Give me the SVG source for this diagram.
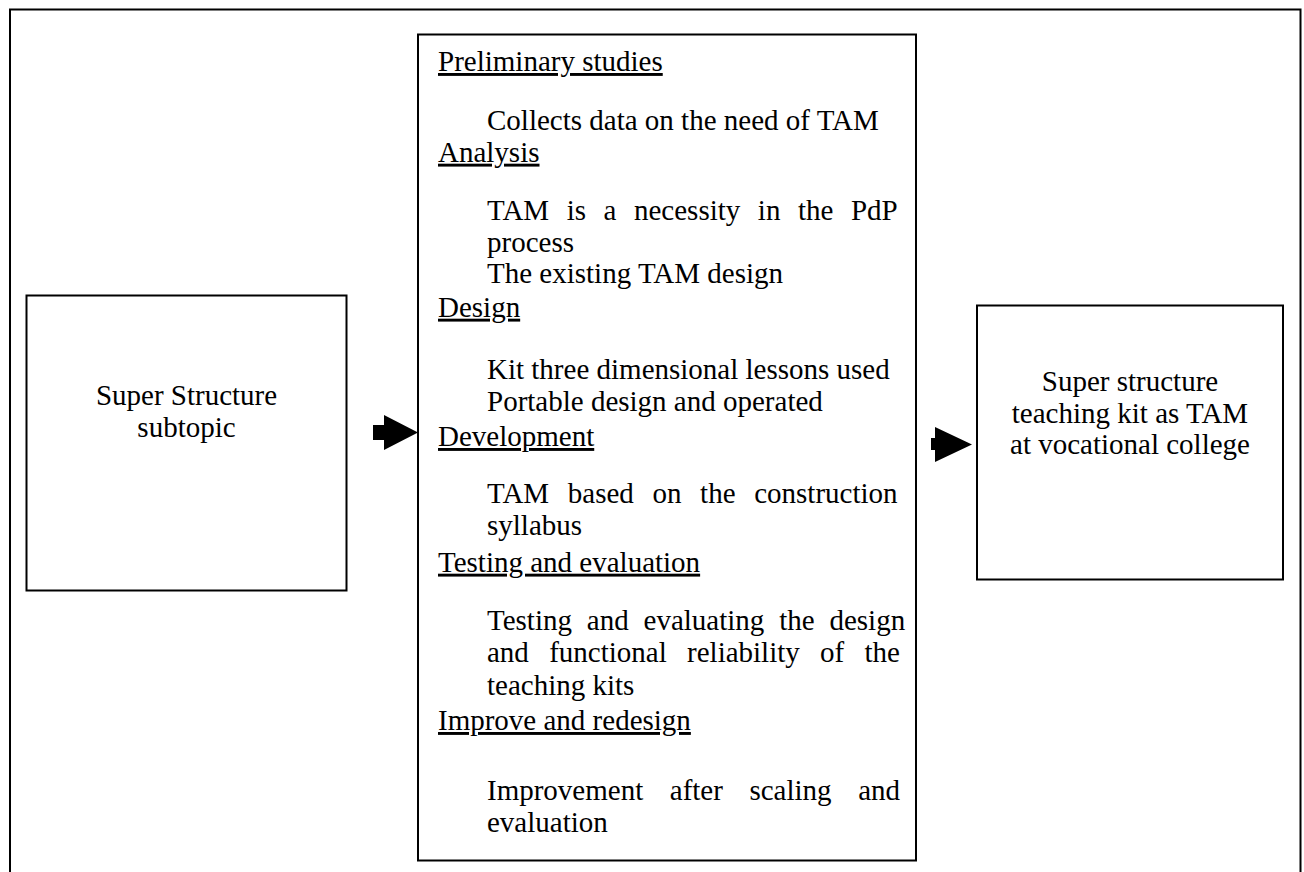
<svg xmlns="http://www.w3.org/2000/svg" width="1304" height="872" viewBox="0 0 1304 872">
<style>
  .box { fill: #fff; stroke: #000; stroke-width: 2; }
  .t { font-family: "Liberation Serif", "Times New Roman", serif; font-size: 29px; fill: #000; }
  .s { font-family: "Liberation Serif", "Times New Roman", serif; font-size: 29px; fill: #000; text-anchor: middle; }
  .h { text-decoration: underline; }
  .arrow { fill: #000; }
</style>
<rect width="1304" height="872" fill="#fff"/>
<rect x="10" y="9.5" width="1290.5" height="880" fill="none" stroke="#000" stroke-width="2"/>
<g id="left">
  <rect class="box" x="26.5" y="295.5" width="320" height="295"/>
  <text class="s" x="186.5" y="405">Super Structure</text>
  <text class="s" x="186.5" y="436.5">subtopic</text>
</g>
<g id="middle">
  <rect class="box" x="418" y="34.5" width="498" height="826"/>
  <text class="t h" x="438" y="71">Preliminary studies</text>
  <text class="t" x="487" y="130">Collects data on the need of TAM</text>
  <text class="t h" x="438" y="161.7">Analysis</text>
  <text class="t" x="487" y="220" word-spacing="10.3">TAM is a necessity in the PdP</text>
  <text class="t" x="487" y="251.7">process</text>
  <text class="t" x="487" y="283.3">The existing TAM design</text>
  <text class="t h" x="438" y="316.7">Design</text>
  <text class="t" x="487" y="379">Kit three dimensional lessons used</text>
  <text class="t" x="487" y="411">Portable design and operated</text>
  <text class="t h" x="438" y="446">Development</text>
  <text class="t" x="487" y="503" word-spacing="11.4">TAM based on the construction</text>
  <text class="t" x="487" y="535">syllabus</text>
  <text class="t h" x="438" y="571.7">Testing and evaluation</text>
  <text class="t" x="487" y="630" word-spacing="7.6">Testing and evaluating the design</text>
  <text class="t" x="487" y="661.7" word-spacing="13.05">and functional reliability of the</text>
  <text class="t" x="487" y="695">teaching kits</text>
  <text class="t h" x="438" y="730">Improve and redesign</text>
  <text class="t" x="487" y="800" word-spacing="19.3">Improvement after scaling and</text>
  <text class="t" x="487" y="831.7">evaluation</text>
</g>
<g id="right">
  <rect class="box" x="977" y="305.5" width="306" height="274"/>
  <text class="s" x="1130" y="391">Super structure</text>
  <text class="s" x="1130" y="422.6">teaching kit as TAM</text>
  <text class="s" x="1130" y="454.3">at vocational college</text>
</g>
<g id="connectors">
  <path class="arrow" d="M373 425 H384 V415 L418 432.5 L384 450 V440 H373 Z"/>
  <path class="arrow" d="M931 438 H935 V427 L972 444.5 L935 462 V450 H931 Z"/>
</g>
</svg>
